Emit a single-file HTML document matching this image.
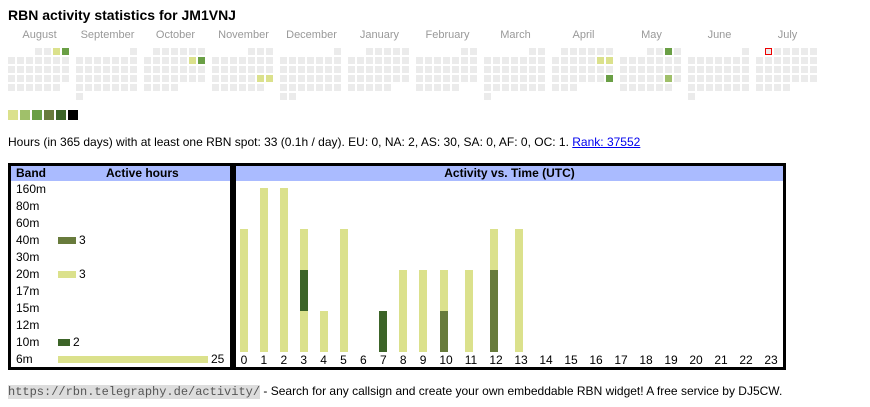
<!DOCTYPE html>
<html><head><meta charset="utf-8"><style>
body{margin:0;width:870px;height:407px;background:#fff;font-family:"Liberation Sans",Arial,sans-serif;position:relative;overflow:hidden}
.a{position:absolute}
.c{position:absolute;width:7px;height:7px;background:#ebebeb}
.ml{position:absolute;font-size:11px;color:#999;text-align:center;width:63px;top:29px}
.t{position:absolute;font-size:12px;color:#000}
</style></head><body>
<div class="a" style="left:8px;top:7px;font-size:14px;font-weight:bold">RBN activity statistics for JM1VNJ</div>
<div id="cal"></div>
<div class="a" style="left:8px;top:110px;width:10px;height:10px;background:#dbe18c"></div>
<div class="a" style="left:20px;top:110px;width:10px;height:10px;background:#a0c06a"></div>
<div class="a" style="left:32px;top:110px;width:10px;height:10px;background:#6a9f45"></div>
<div class="a" style="left:44px;top:110px;width:10px;height:10px;background:#687b3c"></div>
<div class="a" style="left:56px;top:110px;width:10px;height:10px;background:#3c6428"></div>
<div class="a" style="left:68px;top:110px;width:10px;height:10px;background:#000"></div>
<div class="a" style="left:8px;top:135px;font-size:12px">Hours (in 365 days) with at least one RBN spot: 33 (0.1h / day). EU: 0, NA: 2, AS: 30, SA: 0, AF: 0, OC: 1. <span style="color:#00e;text-decoration:underline">Rank: 37552</span></div>

<div class="a" style="left:8px;top:163px;width:219px;height:201px;border:3px solid #000"></div>
<div class="a" style="left:11px;top:166px;width:219px;height:15px;background:#aabbff"></div>
<div class="t" style="left:16px;top:166px;font-weight:bold">Band</div>
<div class="t" style="left:106px;top:166px;font-weight:bold">Active hours</div>
<div class="a" style="left:233px;top:163px;width:547px;height:201px;border:3px solid #000"></div>
<div class="a" style="left:236px;top:166px;width:547px;height:15px;background:#aabbff"></div>
<div class="t" style="left:236px;width:547px;text-align:center;top:166px;font-weight:bold">Activity vs. Time (UTC)</div>
<div id="bands"></div>
<div id="hrs"></div>

<div class="a" style="left:8px;top:384px;font-size:12px"><span style="font-family:'Liberation Mono',monospace;font-size:12px;background:#ddd;color:#555">https://rbn.telegraphy.de/activity/</span> - Search for any callsign and create your own embeddable RBN widget! A free service by DJ5CW.</div>
<script>
var months=["August","September","October","November","December","January","February","March","April","May","June","July"];
var hl={"0-3":"#dbe18c","0-4":"#6a9f45","2-12":"#dbe18c","2-13":"#6a9f45","3-23":"#dbe18c","3-24":"#dbe18c","8-12":"#dbe18c","8-13":"#dbe18c","8-27":"#6a9f45","9-3":"#6a9f45","9-24":"#a0c06a"};
var h="";
for(var m=0;m<12;m++){
 var y=m<5?2024:2025, mo=(7+m)%12;
 var first=new Date(y,mo,1).getDay(); first=(first+6)%7;
 var n=new Date(y,mo+1,0).getDate();
 var x0=8+68*m;
 h+='<div class="ml" style="left:'+x0+'px">'+months[m]+'</div>';
 for(var d=1;d<=n;d++){
  var p=first+d-1,col=p%7,row=Math.floor(p/7);
  var bg=hl[m+"-"+d]||"#ebebeb";
  var st="left:"+(x0+col*9)+"px;top:"+(48+row*9)+"px;background:"+bg;
  if(m==11&&d==1)st+=";box-sizing:border-box;border:1px solid #e00";
  h+='<div class="c" style="'+st+'"></div>';
 }
}
document.getElementById("cal").innerHTML=h;
var b=["160m","80m","60m","40m","30m","20m","17m","15m","12m","10m","6m"];
var bv={3:[3,"#687b3c"],5:[3,"#dbe18c"],9:[2,"#3c6428"],10:[25,"#dbe18c"]};
h="";
for(var i=0;i<11;i++){
 var yy=182+i*17;
 h+='<div class="t" style="left:16px;top:'+yy+'px">'+b[i]+'</div>';
 if(bv[i]){var w=bv[i][0]*6;h+='<div class="a" style="left:58px;top:'+(yy+4)+'px;width:'+w+'px;height:7px;background:'+bv[i][1]+'"></div><div class="t" style="left:'+(61+w)+'px;top:'+yy+'px">'+bv[i][0]+'</div>';}
}
document.getElementById("bands").innerHTML=h;
var L="#dbe18c",D="#3c6428",O="#687b3c";
var bars={0:[L,L,L],1:[L,L,L,L],2:[L,L,L,L],3:[L,D,L],4:[L],5:[L,L,L],7:[D],8:[L,L],9:[L,L],10:[O,L],11:[L,L],12:[O,O,L],13:[L,L,L]};
h="";
for(var k=0;k<24;k++){
 var cx=k<10?244+19.9*k:446+25*(k-10);
 h+='<div class="t" style="left:'+(cx-12)+'px;width:24px;text-align:center;top:353px">'+k+'</div>';
 var s=bars[k]||[];
 var bx=k<10?cx:cx-2;
 for(var j=0;j<s.length;j++)h+='<div class="a" style="left:'+(bx-4)+'px;width:8px;top:'+(311-41*j)+'px;height:41px;background:'+s[j]+'"></div>';
}
document.getElementById("hrs").innerHTML=h;
</script>
</body></html>
